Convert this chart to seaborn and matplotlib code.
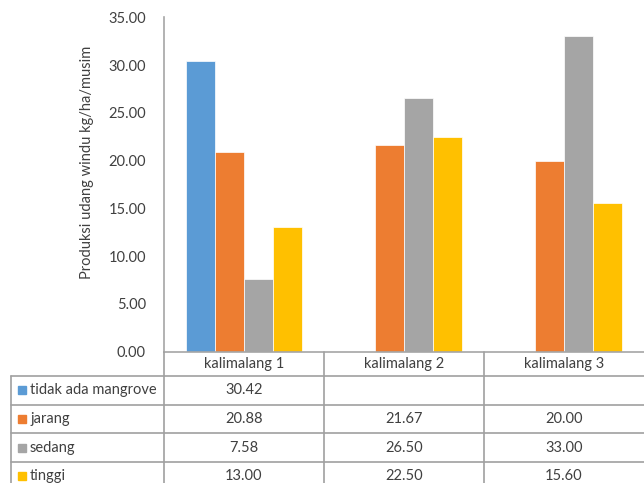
import matplotlib
matplotlib.use("Agg")
import matplotlib.pyplot as plt
from matplotlib.lines import Line2D
from matplotlib.patches import Rectangle
import seaborn as sns
import pandas as pd
import numpy as np

sites = ["kalimalang 1", "kalimalang 2", "kalimalang 3"]
levels = ["tidak ada mangrove", "jarang", "sedang", "tinggi"]
tidak_ada = [30.42, np.nan, np.nan]
jarang = [20.88, 21.67, 20.00]
sedang = [7.58, 26.50, 33.00]
tinggi = [13.00, 22.50, 15.60]
colors = ["#5b9bd5", "#ed7d31", "#a5a5a5", "#ffc000"]
ylabel = "Produksi udang windu kg/ha/musim"
yticks = [0, 5, 10, 15, 20, 25, 30, 35]

series = [tidak_ada, jarang, sedang, tinggi]
rows = []
for lev, vals in zip(levels, series):
    for s, v in zip(sites, vals):
        if not np.isnan(v):
            rows.append({"site": s, "level": lev, "value": v})
df = pd.DataFrame(rows)

sns.set_theme(style="white")
plt.rcParams["font.family"] = ["Lato", "DejaVu Sans"]

W, H = 644, 483
fig = plt.figure(figsize=(W / 100, H / 100), dpi=100)
x0, x1, y_top, y_bot = 164, 644, 17.3, 351.5
ax = fig.add_axes([x0 / W, 1 - y_bot / H, (x1 - x0) / W, (y_bot - y_top) / H])

sns.barplot(data=df, x="site", y="value", hue="level", order=sites, hue_order=levels,
            palette=colors, saturation=1, width=0.73, ax=ax, legend=False,
            edgecolor="white", linewidth=0.5)
ax.set_xlim(-0.5, 2.5)
ax.set_ylim(0, 35)
ax.set_yticks(yticks)
ax.set_yticklabels([f"{t:.2f}" for t in yticks])
ax.set_xticks([])
ax.set_xlabel("")
ax.set_ylabel("")
ax.tick_params(axis="y", length=0, pad=13, labelsize=10.5, labelcolor="#404040")
for side in ["top", "right"]:
    ax.spines[side].set_visible(False)
for side in ["left", "bottom"]:
    ax.spines[side].set_color("#a6a6a6")
    ax.spines[side].set_linewidth(1.2)

fig.text(87 / W, 1 - 162 / H, ylabel, rotation=90, ha="center", va="center",
         fontsize=10.5, color="#404040")

def fx(x):
    return x / W

def fy(y):
    return 1 - y / H

lc = "#a0a0a0"
def line(xa, ya, xb, yb):
    fig.add_artist(Line2D([fx(xa), fx(xb)], [fy(ya), fy(yb)], color=lc, lw=1.2))

col_edges = [164, 324, 484, 644]
header_top, header_bot = 351.5, 376
row_h = 28.7
table_left = 11
n_rows = len(levels)
row_edges = [header_bot + i * row_h for i in range(n_rows + 1)]
bottom = 495

# vertical lines
for cx in col_edges[:-1]:
    line(cx, header_top, cx, bottom)
line(table_left, header_bot, table_left, bottom)
# horizontal lines
for ry in row_edges[:-1]:
    line(table_left, ry, 644, ry)

col_centers = [(a + b) / 2 for a, b in zip(col_edges[:-1], col_edges[1:])]
for cx, s in zip(col_centers, sites):
    fig.text(fx(cx), fy((header_top + header_bot) / 2), s, ha="center", va="center",
             fontsize=10.5, color="#404040")

for i, (lev, vals, c) in enumerate(zip(levels, series, colors)):
    yc = row_edges[i] + row_h / 2
    fig.add_artist(Rectangle((fx(18), fy(yc + 4)), 8 / W, 8 / H, color=c,
                             transform=fig.transFigure))
    fig.text(fx(30), fy(yc), lev, ha="left", va="center", fontsize=10.5, color="#404040")
    for cx, v in zip(col_centers, vals):
        if not np.isnan(v):
            fig.text(fx(cx), fy(yc), f"{v:.2f}", ha="center", va="center",
                     fontsize=10.5, color="#404040")

fig.savefig("out.png", dpi=100)
